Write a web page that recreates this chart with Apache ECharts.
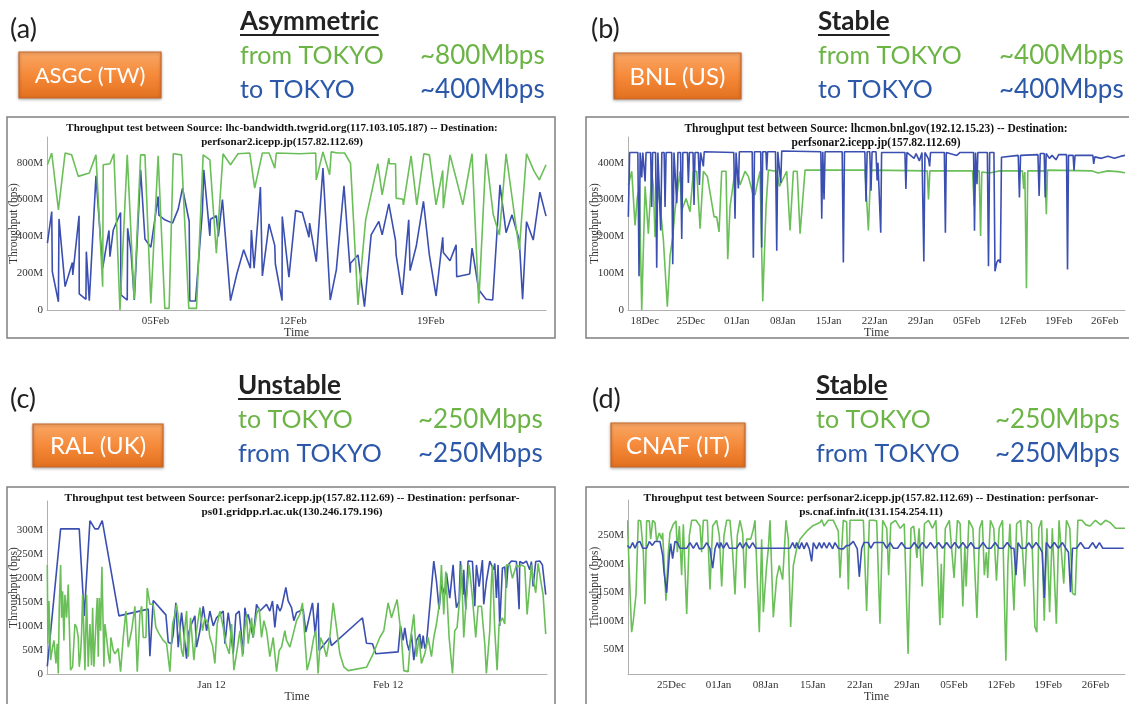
<!DOCTYPE html>
<html><head><meta charset="utf-8">
<script src="https://cdn.jsdelivr.net/npm/echarts@6/dist/echarts.min.js"></script>
<style>html,body{margin:0;padding:0;background:#fff;}#c{width:1129px;height:704px;}</style>
</head><body><div id="c"></div><script>
// ---------- DATA (x = days relative to 01 Jan, y = Mbps) ----------
const ticksA = [35, 42, 49];
const tickLabelsA = ['05Feb', '12Feb', '19Feb'];
const ticksB = [-14, -7, 0, 7, 14, 21, 28, 35, 42, 49, 56];
const tickLabelsB = ['18Dec', '25Dec', '01Jan', '08Jan', '15Jan', '22Jan', '29Jan', '05Feb', '12Feb', '19Feb', '26Feb'];
const ticksC = [11, 42];
const tickLabelsC = ['Jan 12', 'Feb 12'];
const ticksD = [-7, 0, 7, 14, 21, 28, 35, 42, 49, 56];
const tickLabelsD = ['25Dec', '01Jan', '08Jan', '15Jan', '22Jan', '29Jan', '05Feb', '12Feb', '19Feb', '26Feb'];
const yTicksA = [0, 200, 400, 600, 800];
const yTicksB = [0, 100, 200, 300, 400];
const yTicksC = [0, 50, 100, 150, 200, 250, 300];
const yTicksD = [50, 100, 150, 200, 250];

// (a) ASGC
const asgcFromTokyo = [[29.51,789],[29.73,853],[30.07,544],[30.41,853],[30.74,843],[31.08,726],[31.64,744],[31.98,843],[32.32,127],[32.35,789],[32.69,795],[32.89,849],[33.20,0],[33.57,843],[33.92,58],[34.25,843],[34.47,843],[34.77,36],[35.14,838],[35.48,9],[35.70,9],[35.91,849],[36.33,843],[36.70,9],[37.09,9],[37.43,843],[37.77,816],[38.10,308],[38.44,849],[38.82,789],[39.20,849],[39.80,853],[40.05,662],[40.44,853],[40.78,853],[41.07,771],[41.15,853],[42.34,849],[43.15,853],[43.18,707],[43.52,859],[43.86,735],[43.94,859],[44.28,853],[44.62,853],[44.92,798],[45.30,27],[45.69,490],[46.31,795],[46.53,626],[46.87,825],[46.90,795],[47.21,795],[47.24,608],[47.58,602],[47.61,571],[48.00,838],[48.29,571],[48.65,849],[48.93,843],[49.27,571],[49.61,758],[49.64,553],[49.98,843],[50.29,716],[50.63,571],[51.10,849],[51.44,36],[51.81,849],[52.18,517],[52.49,408],[52.83,849],[53.50,326],[53.87,849],[54.26,753],[54.52,707],[54.86,789]];
const asgcToTokyo = [[29.51,363],[29.73,535],[29.76,209],[30.07,45],[30.10,495],[30.41,127],[30.78,258],[30.80,190],[31.12,512],[31.13,87],[31.47,58],[31.49,317],[31.64,51],[31.98,729],[32.32,227],[32.64,432],[32.69,290],[32.86,435],[33.23,530],[33.25,82],[33.57,54],[33.59,444],[33.76,317],[33.93,54],[34.25,762],[34.47,386],[34.77,341],[35.14,617],[35.18,515],[35.48,490],[35.87,472],[36.16,548],[36.38,662],[36.72,481],[36.75,49],[37.04,49],[37.39,535],[37.46,762],[37.77,403],[37.80,493],[38.10,512],[38.20,400],[38.41,600],[38.82,51],[39.15,200],[39.49,327],[39.83,227],[39.88,435],[40.02,227],[40.34,668],[40.44,185],[40.78,468],[41.07,350],[41.10,250],[41.44,51],[41.45,508],[41.79,178],[42.13,540],[42.47,530],[42.81,395],[42.84,472],[43.18,263],[43.52,771],[43.89,54],[44.20,218],[44.59,675],[44.91,203],[44.92,254],[45.30,299],[45.63,18],[45.97,408],[46.36,481],[46.53,408],[46.87,577],[47.21,377],[47.24,299],[47.55,82],[47.88,490],[47.95,214],[48.26,345],[48.63,590],[48.93,299],[49.27,76],[49.61,395],[49.64,312],[49.98,268],[50.29,354],[50.32,181],[50.98,196],[51.10,336],[51.44,110],[51.81,58],[52.15,54],[52.52,680],[52.83,420],[53.13,517],[53.50,380],[53.67,58],[53.87,480],[54.21,380],[54.55,640],[54.86,510]];

// (b) BNL
const bnlFromTokyo = [[-16.49,340],[-15.98,377],[-15.48,230],[-15.12,308],[-14.82,331],[-14.46,0],[-13.95,336],[-13.45,207],[-12.94,377],[-12.69,336],[-12.43,198],[-11.92,336],[-11.16,189],[-10.56,9],[-10.15,147],[-9.74,198],[-9.39,271],[-8.63,377],[-8.37,271],[-7.71,303],[-7.11,267],[-6.6,377],[-6.09,377],[-5.58,221],[-5.08,377],[-4.47,363],[-3.45,253],[-3.05,253],[-2.69,212],[-2.29,377],[-1.63,377],[-1.37,138],[-1.02,280],[-0.26,377],[0.10,377],[0.51,340],[1.27,377],[1.77,363],[2.43,317],[2.79,313],[3.04,336],[3.55,377],[3.96,23],[4.46,280],[4.82,380],[6.09,377],[6.49,336],[7.61,377],[8.11,216],[8.62,377],[9.2,377],[9.64,207],[10.40,380],[19.53,380],[20.04,216],[20.39,380],[29.0,378],[29.19,300],[29.4,378],[35.9,378],[36.14,283],[36.35,378],[36.9,378],[37.12,201],[37.3,375],[38.5,372],[40.0,378],[43.5,378],[43.68,329],[43.85,375],[43.95,378],[44.1,59],[44.3,378],[46.9,378],[47.13,260],[47.3,380],[54.0,378],[55.0,372],[56.5,378],[58.0,376],[59.1,373]];
const bnlToTokyo = [[-16.5,253],[-16.3,428],[-15.05,428],[-14.87,92],[-14.7,428],[-14.55,428],[-14.46,360],[-14.3,428],[-14.1,428],[-13.95,349],[-13.8,428],[-13.1,428],[-12.94,280],[-12.8,428],[-12.35,428],[-12.18,115],[-12.0,428],[-11.7,428],[-11.57,216],[-11.4,428],[-11.05,428],[-10.91,280],[-10.75,428],[-9.9,428],[-9.74,124],[-9.55,428],[-9.3,428],[-9.13,290],[-8.95,428],[-8.55,428],[-8.37,193],[-8.2,428],[-7.5,428],[-7.36,345],[-7.2,428],[-6.65,428],[-6.50,285],[-6.35,428],[-5.85,428],[-5.68,340],[-5.5,428],[-5.2,428],[-5.08,390],[-4.95,430],[-0.45,428],[-0.26,248],[-0.1,428],[0.1,428],[0.25,330],[0.4,430],[2.35,430],[2.53,142],[2.7,430],[3.65,430],[3.80,170],[3.95,430],[4.45,430],[4.56,380],[4.7,430],[5.9,430],[6.09,161],[6.25,430],[6.55,430],[6.70,345],[6.85,432],[12.8,430],[12.94,248],[13.1,430],[13.2,430],[13.29,300],[13.45,430],[16.05,430],[16.23,129],[16.4,430],[19.5,430],[19.68,294],[19.85,430],[20.25,430],[20.44,324],[20.6,430],[21.2,430],[21.37,352],[21.5,400],[21.92,210],[22.05,428],[25.6,428],[25.75,329],[25.9,428],[27.0,412],[27.3,425],[27.8,405],[28.2,428],[28.33,428],[28.48,132],[28.65,428],[29.2,410],[29.36,390],[29.5,428],[31.6,428],[31.76,210],[31.9,428],[33.5,420],[34.0,428],[36.05,428],[36.19,215],[36.35,428],[36.45,428],[36.57,342],[36.7,428],[38.15,428],[38.32,119],[38.5,428],[39.15,428],[39.31,105],[39.6,130],[39.85,137],[40.13,128],[40.3,415],[42.85,420],[43.03,306],[43.2,420],[45.85,422],[46.03,310],[46.2,425],[46.8,425],[46.96,306],[47.1,425],[47.6,412],[48.0,420],[48.6,408],[49.0,422],[50.2,422],[50.35,110],[50.5,420],[51.2,420],[51.34,379],[51.5,420],[54.2,420],[54.34,397],[54.5,416],[55.5,412],[56.5,418],[57.5,412],[58.5,418],[59.1,420]];

// (c) RAL
const ralToTokyo = [[-17.85,227],[-17.74,63],[-17.56,152],[-17.27,29],[-16.92,56],[-16.68,70],[-16.33,22],[-16.10,63],[-15.92,1],[-15.75,138],[-15.51,227],[-15.34,117],[-15.16,172],[-14.93,70],[-14.75,165],[-14.46,117],[-14.17,186],[-13.99,104],[-13.76,8],[-13.41,15],[-13.00,104],[-12.70,97],[-12.41,76],[-12.24,15],[-12.0,42],[-11.83,83],[-11.65,165],[-11.47,104],[-11.24,8],[-10.95,165],[-10.66,15],[-10.36,104],[-10.07,18],[-9.89,138],[-9.66,15],[-9.31,104],[-9.08,158],[-8.90,36],[-8.72,158],[-8.49,90],[-8.26,223],[-8.02,90],[-7.91,15],[-7.73,104],[-7.44,76],[-7.14,42],[-6.85,22],[-6.68,76],[-6.27,49],[-5.97,42],[-5.39,53],[-4.98,5],[-4.51,76],[-4.04,131],[-3.63,56],[-3.05,90],[-2.46,141],[-2.05,5],[-1.59,124],[-1.29,141],[-1.0,76],[-0.53,76],[-0.30,179],[0.17,145],[0.75,145],[1.22,97],[1.81,83],[2.51,70],[3.10,63],[3.68,5],[4.15,104],[4.56,124],[4.85,145],[5.32,104],[5.73,49],[6.02,36],[6.31,97],[6.61,131],[6.90,36],[7.31,117],[7.66,63],[7.89,29],[8.36,90],[8.95,138],[9.41,90],[9.82,117],[10.41,104],[10.70,76],[11.17,59],[11.58,22],[11.99,104],[12.46,131],[13.04,97],[13.51,63],[14.10,42],[14.51,104],[14.92,8],[15.38,42],[15.97,90],[16.44,36],[16.67,76],[17.14,124],[17.43,63],[18.02,117],[18.31,76],[18.89,124],[19.36,138],[19.77,76],[20.18,111],[20.65,90],[21.23,36],[21.82,76],[22.41,5],[22.87,49],[23.28,56],[23.87,90],[24.16,70],[24.75,56],[25.33,83],[25.92,111],[26.50,124],[26.96,148],[27.37,76],[27.78,8],[28.37,36],[28.95,76],[29.30,90],[29.71,1],[30.12,76],[30.59,63],[31.18,36],[31.76,76],[32.35,148],[32.93,97],[33.52,42],[34.22,15],[34.98,7],[38.20,14],[39.37,42],[40.54,76],[41.24,90],[42.0,148],[42.59,117],[43.58,155],[44.34,76],[44.75,7],[45.51,5],[45.92,70],[46.51,124],[46.98,36],[47.44,76],[47.85,22],[48.44,42],[49.02,76],[49.61,36],[50.02,76],[50.49,104],[51.07,152],[51.36,227],[51.77,124],[52.12,213],[52.71,76],[53.30,1],[53.70,90],[54.11,97],[54.58,158],[54.87,227],[55.28,76],[55.75,158],[56.22,227],[56.81,158],[57.39,76],[57.80,141],[58.39,141],[58.97,63],[59.26,1],[59.85,90],[60.14,193],[60.32,227],[60.73,90],[61.14,8],[61.49,104],[62.07,117],[62.48,104],[62.77,227],[63.36,227],[63.83,199],[64.53,227],[65.0,223],[65.41,227],[66.0,223],[66.41,124],[66.76,172],[67.16,227],[67.46,199],[67.92,169],[68.33,230],[68.74,199],[69.21,165],[69.68,83]];
const ralFromTokyo = [[-17.85,16],[-15.51,302],[-12.24,302],[-11.36,121],[-10.36,319],[-9.49,302],[-8.90,302],[-8.20,319],[-5.27,121],[-0.12,135],[0.17,37],[0.75,153],[2.98,123],[3.39,66],[3.97,63],[4.27,83],[4.73,148],[5.14,56],[5.73,128],[6.02,128],[6.61,32],[6.90,83],[7.48,104],[8.07,121],[8.36,56],[8.95,90],[9.53,141],[10.12,90],[10.70,131],[11.29,100],[11.87,117],[12.46,124],[13.04,131],[13.34,63],[13.92,128],[14.21,104],[14.80,42],[15.27,124],[15.85,131],[16.55,42],[16.85,138],[17.14,117],[17.43,124],[18.31,76],[18.89,145],[19.48,131],[19.77,131],[20.65,145],[21.23,131],[21.70,152],[22.11,97],[22.52,145],[22.99,131],[23.28,138],[24.04,180],[24.45,152],[25.04,138],[25.45,111],[25.92,128],[26.50,131],[27.08,135],[27.55,87],[28.72,148],[29.19,83],[29.71,148],[29.89,49],[31.76,76],[32.05,59],[37.50,117],[38.20,64],[39.25,63],[39.84,42],[43.76,46],[44.17,100],[44.63,70],[44.93,96],[45.34,63],[45.69,49],[46.10,83],[46.51,29],[46.98,70],[47.56,83],[47.85,53],[48.15,80],[48.44,53],[48.73,63],[50.02,235],[50.49,193],[50.95,135],[51.36,186],[51.95,165],[52.24,210],[52.83,158],[53.41,227],[53.70,176],[54.0,138],[54.46,152],[54.70,235],[55.17,165],[55.28,217],[55.64,135],[56.04,235],[56.81,234],[57.22,141],[57.51,227],[57.98,182],[58.56,237],[58.79,145],[59.26,193],[59.85,235],[60.14,227],[60.55,217],[60.73,230],[61.02,158],[61.31,227],[61.60,100],[62.07,220],[62.48,223],[62.77,179],[63.07,227],[63.65,235],[64.53,234],[65.0,135],[65.11,234],[65.70,230],[66.28,235],[66.87,217],[67.16,234],[67.46,182],[67.92,234],[68.63,235],[69.09,227],[69.68,165]];

// (d) CNAF
const cnafToTokyo = [[-13.55,276],[-13.15,152],[-12.91,80],[-12.66,100],[-12.26,146],[-11.92,276],[-11.57,275],[-11.17,220],[-10.93,129],[-10.68,275],[-10.28,275],[-10.08,243],[-9.79,276],[-9.44,272],[-9.19,239],[-8.80,254],[-8.45,243],[-8.30,254],[-7.81,135],[-7.46,220],[-7.21,254],[-6.72,269],[-6.32,275],[-6.12,220],[-5.82,266],[-5.48,180],[-5.23,269],[-4.73,112],[-4.34,249],[-3.99,276],[-3.35,276],[-2.75,266],[-2.51,220],[-2.26,276],[-1.66,276],[-1.27,155],[-0.87,266],[-0.28,276],[0.12,249],[0.47,160],[0.81,249],[1.21,276],[1.70,276],[2.10,220],[2.45,146],[2.79,249],[3.19,276],[3.59,254],[3.93,157],[4.18,243],[4.78,243],[5.17,260],[5.42,276],[5.67,277],[6.06,80],[6.41,243],[6.66,115],[7.15,197],[7.40,226],[7.65,276],[8.14,106],[8.64,175],[9.03,197],[9.53,172],[10.03,276],[10.37,243],[10.72,89],[11.12,197],[11.61,226],[12.11,243],[13.10,257],[14.09,267],[15.08,272],[15.33,277],[15.67,266],[16.32,276],[17.06,276],[17.80,257],[18.05,175],[18.54,276],[19.04,273],[19.29,155],[19.54,276],[20.03,276],[21.52,276],[22.01,117],[22.41,276],[23.0,276],[23.50,275],[23.99,95],[24.4,276],[25.0,262],[25.28,180],[25.6,270],[26.3,276],[27.0,262],[27.6,270],[28.17,42],[28.6,262],[29.0,266],[29.48,210],[29.8,262],[30.27,160],[30.6,270],[31.2,276],[31.8,262],[32.3,276],[32.9,92],[33.1,200],[33.3,105],[33.7,262],[34.3,276],[35.0,175],[35.5,276],[35.9,270],[36.3,125],[36.6,230],[36.8,160],[37.2,276],[37.8,262],[38.4,105],[38.8,262],[39.2,276],[39.5,180],[39.8,220],[40.0,175],[40.4,276],[40.9,262],[41.3,170],[41.7,262],[42.2,276],[42.7,30],[43.0,200],[43.3,270],[43.9,118],[44.3,270],[44.9,276],[45.5,160],[45.9,276],[46.5,270],[47.0,90],[47.3,80],[47.6,262],[48.0,276],[48.4,100],[48.8,262],[49.2,115],[49.6,262],[50.2,95],[50.6,276],[51.3,165],[51.7,276],[52.2,262],[52.6,148],[53.0,145],[53.4,276],[54.0,276],[54.6,268],[55.2,266],[56.0,276],[56.8,268],[57.5,276],[58.2,272],[59.0,262],[60.4,262]];
const cnafFromTokyo = [[-13.55,232],[-13.15,227],[-12.76,237],[-12.41,227],[-12.06,237],[-11.67,239],[-11.27,227],[-10.68,227],[-10.28,239],[-9.84,232],[-9.44,239],[-8.70,239],[-8.30,215],[-8.10,186],[-7.71,149],[-7.31,215],[-7.11,235],[-6.82,209],[-6.47,239],[-6.12,237],[-5.73,227],[-4.73,227],[-4.24,237],[-3.74,227],[-3.25,237],[-2.85,226],[-2.26,227],[-1.76,237],[-1.27,227],[-0.87,192],[-0.52,226],[-0.18,237],[0.12,227],[0.32,237],[0.71,227],[1.21,237],[1.60,227],[2.20,227],[2.69,227],[3.19,237],[3.59,227],[4.08,237],[4.58,227],[5.07,237],[5.57,227],[6.06,227],[7.15,227],[7.65,227],[8.64,227],[9.14,227],[10.12,227],[10.62,227],[11.02,237],[11.37,227],[11.61,237],[12.01,226],[12.36,237],[12.70,226],[13.10,237],[13.49,226],[13.84,204],[14.09,237],[14.58,226],[14.98,237],[15.33,227],[15.67,237],[16.07,227],[16.46,237],[16.96,226],[17.30,237],[17.80,227],[18.15,226],[18.54,226],[19.04,232],[19.43,232],[20.03,239],[20.28,237],[20.62,226],[20.92,177],[21.27,227],[21.62,237],[22.26,237],[22.61,227],[23.10,237],[23.99,237],[24.5,237],[25.0,227],[25.5,237],[26.0,227],[26.6,227],[27.2,237],[27.8,227],[28.5,227],[29.1,237],[29.7,227],[30.3,237],[30.9,227],[31.5,237],[32.1,227],[32.7,237],[33.3,227],[33.9,237],[34.5,227],[35.1,237],[35.7,227],[36.3,237],[36.9,227],[37.5,237],[38.1,227],[38.7,227],[39.3,237],[39.9,227],[40.5,227],[41.1,237],[41.7,227],[42.3,227],[42.9,237],[43.5,227],[43.9,227],[44.2,180],[44.5,237],[45.0,227],[45.6,227],[46.1,237],[46.6,227],[47.2,237],[47.8,227],[48.1,220],[48.4,140],[48.7,237],[49.3,227],[49.9,237],[50.5,227],[51.1,237],[51.6,227],[52.0,220],[52.3,150],[52.6,227],[53.2,227],[53.8,237],[54.4,227],[55.0,227],[55.6,237],[56.1,227],[56.6,237],[57.1,227],[57.7,227],[58.5,227],[59.3,227],[60.2,227]];

// header texts
const panelLetters = ['(a)', '(b)', '(c)', '(d)'];
const siteNames = ['ASGC (TW)', 'BNL (US)', 'RAL (UK)', 'CNAF (IT)'];
const verdicts = ['Asymmetric', 'Stable', 'Unstable', 'Stable'];
const greenLabels = ['from TOKYO', 'from TOKYO', 'to TOKYO', 'to TOKYO'];
const greenRates = ['~800Mbps', '~400Mbps', '~250Mbps', '~250Mbps'];
const blueLabels = ['to TOKYO', 'to TOKYO', 'from TOKYO', 'from TOKYO'];
const blueRates = ['~400Mbps', '~400Mbps', '~250Mbps', '~250Mbps'];
const chartTitles = [
  ['Throughput test between Source: lhc-bandwidth.twgrid.org(117.103.105.187) -- Destination:', 'perfsonar2.icepp.jp(157.82.112.69)'],
  ['Throughput test between Source: lhcmon.bnl.gov(192.12.15.23) -- Destination:', 'perfsonar2.icepp.jp(157.82.112.69)'],
  ['Throughput test between Source: perfsonar2.icepp.jp(157.82.112.69) -- Destination: perfsonar-', 'ps01.gridpp.rl.ac.uk(130.246.179.196)'],
  ['Throughput test between Source: perfsonar2.icepp.jp(157.82.112.69) -- Destination: perfsonar-', 'ps.cnaf.infn.it(131.154.254.11)']
];

// ---------- LAYOUT ----------
const GREEN = '#6abf58', BLUE = '#3b4fb0';
const TXT_GREEN = '#6db447', TXT_BLUE = '#2c58a9';
const HFONT = 'Lato';
const SERIF = 'Liberation Serif';

const grids = [
  {left: 47, top: 137, width: 499, height: 173},
  {left: 628, top: 137, width: 497, height: 173},
  {left: 47, top: 501, width: 500, height: 176.5},
  {left: 628, top: 500, width: 497, height: 178}
];
const xr = [[29.49, 54.86], [-16.55, 59.1], [-17.9, 69.9], [-13.45, 60.4]];
const yr = [[0, 940], [0, 470], [0, 360], [6.7, 311.6]];
const tickSets = [[ticksA, tickLabelsA], [ticksB, tickLabelsB], [ticksC, tickLabelsC], [ticksD, tickLabelsD]];
const yTickSets = [yTicksA, yTicksB, yTicksC, yTicksD];
const frames = [[7, 117, 548, 221], [586, 117, 560, 221], [7, 487, 548, 240], [586, 487, 560, 240]];
const titleCenters = [282, 876, 292, 871];
const titleSizes = [11, 11.5, 11.3, 11.3];

// header positions: [letterX, letterY, boxX, boxY, boxW, boxH, textX, verdictY, line1Y, line2Y, rateX]
const heads = [
  [10, 29, 19, 52, 142, 46, 240, 22, 56, 90, 420],
  [591, 29, 614, 53, 127, 46, 818, 22, 56, 90, 999],
  [10, 399, 33, 424, 130, 43, 238, 386, 420, 454, 418],
  [592, 399, 611, 423, 134, 44, 816, 386, 420, 454, 995]
];

const ctx = document.createElement('canvas').getContext('2d');
function tw(font, s) { ctx.font = font; return ctx.measureText(s).width; }

const graphic = [];
frames.forEach(f => graphic.push({type: 'rect', shape: {x: f[0], y: f[1], width: f[2], height: f[3]}, style: {fill: 'none', stroke: '#808080', lineWidth: 1.5}, z: 1}));
heads.forEach((h, i) => {
  graphic.push({type: 'text', x: h[0], y: h[1], style: {text: panelLetters[i], font: '27px ' + HFONT, fill: '#222', verticalAlign: 'middle'}});
  graphic.push({type: 'rect', shape: {x: h[2], y: h[3], width: h[4], height: h[5]}, style: {
    fill: {type: 'linear', x: 0, y: 0, x2: 0, y2: 1, colorStops: [{offset: 0, color: '#f9a766'}, {offset: 0.5, color: '#f58a3a'}, {offset: 1, color: '#e2701e'}]},
    stroke: '#c8682a', lineWidth: 1.2, shadowColor: 'rgba(0,0,0,0.3)', shadowBlur: 3, shadowOffsetY: 1}});
  graphic.push({type: 'text', x: h[2] + h[4] / 2, y: h[3] + h[5] / 2 + 1, style: {text: siteNames[i], font: (i === 0 ? '22px ' : '24px ') + HFONT, fill: '#fff', align: 'center', verticalAlign: 'middle'}});
  const vf = 'bold 26px ' + HFONT;
  graphic.push({type: 'text', x: h[6], y: h[7], style: {text: verdicts[i], font: vf, fill: '#222', verticalAlign: 'middle'}});
  graphic.push({type: 'line', shape: {x1: h[6], y1: h[7] + 13, x2: h[6] + tw(vf, verdicts[i]), y2: h[7] + 13}, style: {stroke: '#222', lineWidth: 2}});
  const lf = '25px ' + HFONT;
  graphic.push({type: 'text', x: h[6], y: h[8], style: {text: greenLabels[i], font: lf, fill: TXT_GREEN, verticalAlign: 'middle'}});
  graphic.push({type: 'text', x: h[10], y: h[8], style: {text: greenRates[i], font: '26px ' + HFONT, fill: TXT_GREEN, verticalAlign: 'middle'}});
  graphic.push({type: 'text', x: h[6], y: h[9], style: {text: blueLabels[i], font: lf, fill: TXT_BLUE, verticalAlign: 'middle'}});
  graphic.push({type: 'text', x: h[10], y: h[9], style: {text: blueRates[i], font: '26px ' + HFONT, fill: TXT_BLUE, verticalAlign: 'middle'}});
  const tf = 'bold ' + titleSizes[i] + 'px ' + SERIF;
  graphic.push({type: 'text', x: titleCenters[i], y: frames[i][1] + 6, style: {text: chartTitles[i][0], font: tf, fill: '#111', align: 'center', verticalAlign: 'top'}});
  graphic.push({type: 'text', x: titleCenters[i], y: frames[i][1] + 20, style: {text: chartTitles[i][1], font: tf, fill: '#111', align: 'center', verticalAlign: 'top'}});
});

const xAxis = [], yAxis = [], series = [];
const pairs = [[asgcFromTokyo, asgcToTokyo], [bnlFromTokyo, bnlToTokyo], [ralToTokyo, ralFromTokyo], [cnafToTokyo, cnafFromTokyo]];
for (let i = 0; i < 4; i++) {
  const [tv, tl] = tickSets[i];
  const yt = yTickSets[i];
  xAxis.push({type: 'value', gridIndex: i, min: xr[i][0], max: xr[i][1],
    name: 'Time', nameLocation: 'middle', nameGap: 17, nameMoveOverlap: false,
    nameTextStyle: {fontFamily: SERIF, fontSize: 12, color: '#333'},
    axisLine: {onZero: false, lineStyle: {color: '#b0b0b0', width: 1}}, axisTick: {show: false}, splitLine: {show: false},
    axisLabel: {customValues: tv, formatter: v => { const k = tv.indexOf(Math.round(v)); return k >= 0 ? tl[k] : ''; }, fontFamily: SERIF, fontSize: 11, color: '#333', margin: 6}});
  yAxis.push({type: 'value', gridIndex: i, min: yr[i][0], max: yr[i][1],
    name: 'Throughput (bps)', nameLocation: 'middle', nameGap: 27, nameRotate: 90, nameMoveOverlap: false,
    nameTextStyle: {fontFamily: SERIF, fontSize: 11.5, color: '#333'},
    axisLine: {show: true, onZero: false, lineStyle: {color: '#b0b0b0', width: 1}}, axisTick: {show: false}, splitLine: {show: false},
    axisLabel: {customValues: yt, formatter: v => v === 0 ? '0' : Math.round(v) + 'M', fontFamily: SERIF, fontSize: 11, color: '#333', margin: 4}});
  series.push({type: 'line', xAxisIndex: i, yAxisIndex: i, data: pairs[i][0], showSymbol: false, symbol: 'none', lineStyle: {color: GREEN, width: 1.6}, z: 3});
  series.push({type: 'line', xAxisIndex: i, yAxisIndex: i, data: pairs[i][1], showSymbol: false, symbol: 'none', lineStyle: {color: BLUE, width: 1.6}, z: i === 0 || i === 2 ? 2 : 4});
}

const chart = echarts.init(document.getElementById('c'), null, {renderer: 'canvas'});
chart.setOption({animation: false, backgroundColor: '#fff', grid: grids, xAxis, yAxis, series, graphic});
</script></body></html>
